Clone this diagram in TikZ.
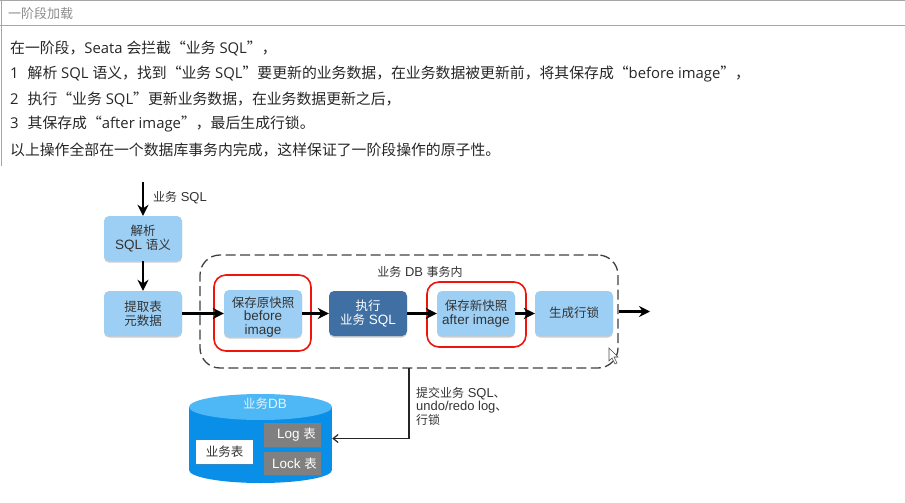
\documentclass[tikz,border=0pt]{standalone}
\usepackage{fontspec}
\setmainfont{Open Sans}
\newfontfamily\cjk{Noto Sans CJK SC}
\newfontfamily\figlat[Scale=1.08]{Liberation Sans}
\usetikzlibrary{arrows.meta,shadows,shapes.geometric}
\newcommand{\zh}[1]{{\cjk #1}}
\definecolor{boxblue}{HTML}{9DCFF5}
\definecolor{boxdark}{HTML}{3F6FA3}
\definecolor{dbbody}{HTML}{0A8FE8}
\definecolor{dbtop}{HTML}{4DB8F5}
\definecolor{tabgray}{HTML}{808080}
\definecolor{inktext}{HTML}{333333}
\definecolor{redmark}{HTML}{F0140A}
\begin{document}
\begin{tikzpicture}[
  x=1pt, y=-1pt,
  bodytext/.style={anchor=west, inner sep=0pt, font=\fontsize{14.85}{18}\selectfont, text=black!85},
  box/.style={rounded corners=5pt, align=center, inner sep=0pt, font=\figlat\fontsize{12.5}{13.6}\selectfont, text=inktext, minimum width=78pt, minimum height=45pt, fill=boxblue, drop shadow={shadow xshift=0pt, shadow yshift=-1.5pt, opacity=.4}},
  darkbox/.style={box, fill=boxdark, text=white},
  redbox/.style={draw=redmark, line width=1.6pt, rounded corners=12pt, inner sep=0pt},
  txbox/.style={draw=black!75, line width=1.3pt, dash pattern=on 10pt off 4.5pt, rounded corners=20pt, inner sep=0pt, minimum width=418pt, minimum height=113pt},
  lab/.style={inner sep=0pt, align=left, font=\figlat\fontsize{12}{13.6}\selectfont, text=inktext},
  dbend/.style={ellipse, inner sep=0pt, minimum width=143pt, minimum height=26pt},
  tabbox/.style={inner sep=0pt, font=\figlat\fontsize{12.5}{14}\selectfont, drop shadow={shadow xshift=0pt, shadow yshift=-1pt, opacity=.35}},
  arrow/.style={-{Stealth[length=11pt, width=11pt]}, line width=2.2pt, black},
  commit/.style={-{Straight Barb[length=5pt, width=8pt]}, line width=1.2pt, black!85}
]
\useasboundingbox (0,0) rectangle (905,503);
% page frame
\draw[black!35, line width=1pt] (0,0.5) -- (905,0.5);
\draw[black!35, line width=1pt] (0,26) -- (905,26);
\draw[black!35, line width=1pt] (1,0) -- (1,166);
\node[inner sep=0pt, anchor=west, text=black!45, font=\fontsize{13}{15}\selectfont] (title) at (8,14) {\zh{一阶段加载}};

\node[bodytext] (lineA) at (10,48.5) {\zh{在一阶段，}Seata \zh{会拦截“业务} SQL\zh{”，}};
\node[bodytext] (lineB) at (10,74) {1\hspace{9pt}\zh{解析} SQL \zh{语义，找到“业务} SQL\zh{”要更新的业务数据，在业务数据被更新前，将其保存成“}before image\zh{”，}};
\node[bodytext] (lineC) at (10,99) {2\hspace{9pt}\zh{执行“业务} SQL\zh{”更新业务数据，在业务数据更新之后，}};
\node[bodytext] (lineD) at (10,124) {3\hspace{9pt}\zh{其保存成“}after image\zh{”，最后生成行锁。}};
\node[bodytext] (lineE) at (10,149.5) {\zh{以上操作全部在一个数据库事务内完成，这样保证了一阶段操作的原子性。}};

% flow
\coordinate (sqlin) at (143,182);
\node[box] (parse) at (143,238.5) {\zh{解析}\\SQL \zh{语义}};
\node[box] (meta) at (143,313.5) {\zh{提取表}\\\zh{元数据}};
\node[txbox] (tx) at (409,311.5) {};
\node[box] (before) at (263,313.5) {\rule{0pt}{17pt}\zh{保存原快照}\\before\\image};
\node[darkbox] (exec) at (368,313.5) {\zh{执行}\\\zh{业务} SQL};
\node[box] (after) at (476,313.5) {\zh{保存新快照}\\after image};
\node[box] (lock) at (574,313.5) {\raisebox{2.5pt}{\zh{生成行锁}}};
\node[redbox, minimum width=97pt, minimum height=76pt] (redA) at (262.5,313) {};
\node[redbox, minimum width=99pt, minimum height=65pt] (redB) at (476.5,314.5) {};
\coordinate (out) at (650,311.5);

\node[lab, anchor=west] (sqllab) at (153,198) {\zh{业务} SQL};
\node[lab] (txlab) at (420,272) {\zh{业务} DB \zh{事务内}};
\node[lab, anchor=north west] (commitlab) at (416,387) {\zh{提交业务} SQL\zh{、}\\undo/redo log\zh{、}\\\zh{行锁}};

% database
\node[dbend, fill=dbbody] (dbbase) at (260.5,470) {};
\node[fill=dbbody, inner sep=0pt, minimum width=143pt, minimum height=63pt] (db) at (260.5,438.5) {};
\node[dbend, fill=dbtop] (dbcap) at (260.5,407) {};
\node[inner sep=0pt, text=white!85!dbtop, font=\figlat\fontsize{12.5}{14}\selectfont] (dblab) at (265,404) {\zh{业务}DB};
\node[tabbox, fill=white, text=inktext, minimum width=57pt, minimum height=24pt] (biz) at (224.5,452) {\zh{业务表}};
\node[tabbox, fill=tabgray, text=white, minimum width=57pt, minimum height=24pt] (logt) at (292.5,435) {\hspace{8pt}Log \zh{表}};
\node[tabbox, fill=tabgray, text=white, minimum width=57pt, minimum height=23pt] (lockt) at (292.5,463.5) {\hspace{4pt}Lock \zh{表}};

\draw[arrow] (sqlin) -- (parse);
\draw[arrow] (parse) -- (meta);
\draw[arrow] (meta) -- (before);
\draw[arrow] (before) -- (exec);
\draw[arrow] (exec) -- (after);
\draw[arrow] (after) -- (lock);
\draw[arrow] (tx.east) -- (out);
\coordinate (commitstart) at (409,368);
\draw[commit] (commitstart) |- (db.east);

% mouse pointer
\draw[black!70, fill=white, line width=.6pt] (609,348) -- (609,361) -- (612,358) -- (615,364) -- (617,363) -- (614,357) -- (618,357) -- cycle;
\end{tikzpicture}
\end{document}
